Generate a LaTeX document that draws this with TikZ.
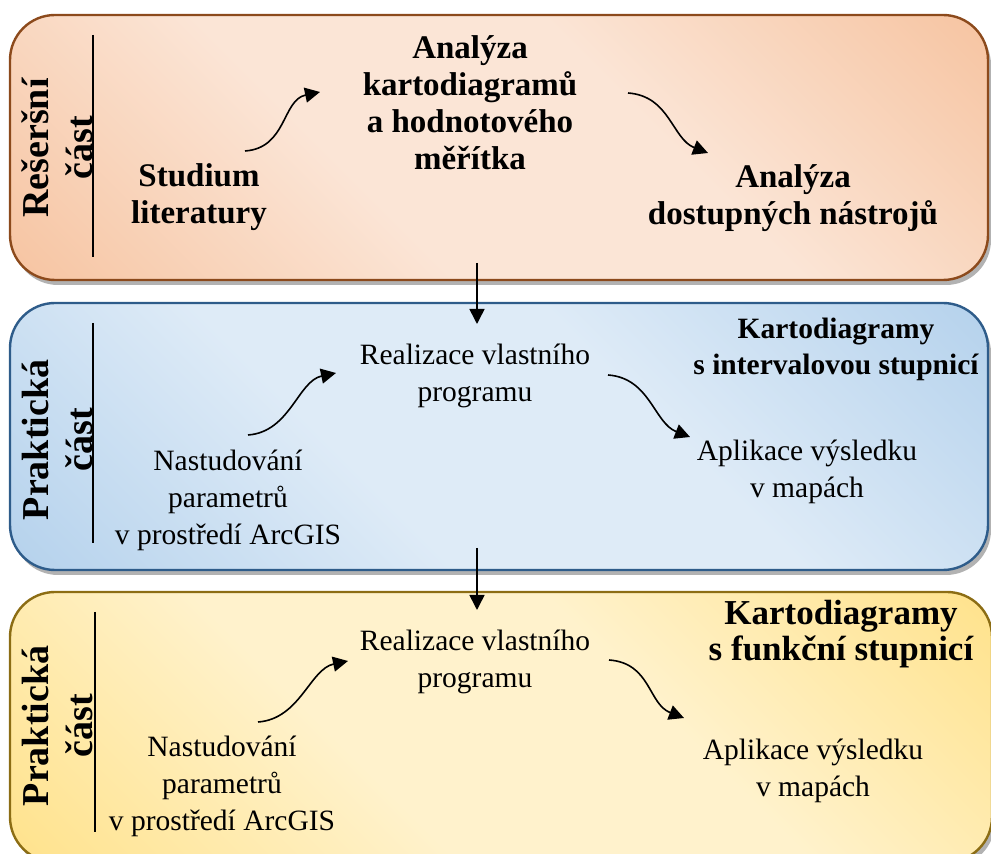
\documentclass[tikz,border=0pt]{standalone}
\usepackage{fontspec}
\setmainfont{Liberation Serif}[BoldFont={Liberation Serif Bold}]
\usetikzlibrary{arrows.meta,positioning,calc}

\definecolor{orDark}{HTML}{F4B183}
\definecolor{orLight}{HTML}{FBE5D6}
\definecolor{orLine}{HTML}{8C4A1C}
\definecolor{blDark}{HTML}{9DC3E6}
\definecolor{blLight}{HTML}{DEEBF7}
\definecolor{blLine}{HTML}{2E5C8A}
\definecolor{yeDark}{HTML}{FFD966}
\definecolor{yeLight}{HTML}{FFF2CC}
\definecolor{yeLine}{HTML}{8C6D14}

\pgfdeclarehorizontalshading{orpanel}{100bp}{color(0bp)=(orDark); color(40bp)=(orLight); color(60bp)=(orLight); color(100bp)=(orDark)}
\pgfdeclarehorizontalshading{blpanel}{100bp}{color(0bp)=(blDark); color(40bp)=(blLight); color(60bp)=(blLight); color(100bp)=(blDark)}
\pgfdeclarehorizontalshading{yepanel}{100bp}{color(0bp)=(yeDark); color(40bp)=(yeLight); color(60bp)=(yeLight); color(100bp)=(yeDark)}

\tikzset{
  toptxt/.style={align=center, font=\fontsize{16.5}{18.5}\selectfont\bfseries},
  txt/.style={align=center, font=\fontsize{14.75}{18.5}\selectfont},
  titletxt/.style={align=center, font=\fontsize{14.75}{18}\selectfont\bfseries},
  bigtitle/.style={align=center, font=\fontsize{17.5}{18}\selectfont\bfseries},
  sidetxt/.style={rotate=90, align=center, font=\fontsize{19}{22}\selectfont\bfseries},
  flow/.style={-{Triangle[length=7.5pt,width=7.5pt]}, line width=0.8pt},
  divline/.style={line width=0.75pt}
}

\begin{document}
\begin{tikzpicture}[x=0.5pt,y=-0.5pt]
  \useasboundingbox (0,0) rectangle (991,854);
  \clip (0,0) rectangle (991,854);

  % panels
  \foreach \t/\b/\r/\shd/\brd in {15/280/988/orpanel/orLine, 303/570/988/blpanel/blLine, 592/862/992/yepanel/yeLine}{
    \fill[black,opacity=.3,rounded corners=22.5pt] (13,\t+5) rectangle (\r+3,\b+5);
    \draw[draw=\brd,line width=1.2pt,rounded corners=22.5pt,shade,shading=\shd,shading angle=45] (10,\t) rectangle (\r,\b);
  }
  \foreach \t/\b/\xx in {35/257/93, 323/543/93, 612/832/95}
    \draw[divline] (\xx,\t) -- (\xx,\b);

  % side labels
  \node[sidetxt] (side1) at (57,148) {Rešeršní\\část};
  \node[sidetxt] (side2) at (57,440) {Praktická\\část};
  \node[sidetxt] (side3) at (57,726) {Praktická\\část};

  % research part
  \node[toptxt] (stud) at (199,197) {Studium\\literatury};
  \node[toptxt] (ankart) at (470,103) {Analýza\\kartodiagramů\\a hodnotového\\měřítka};
  \node[toptxt] (annas) at (793,198) {Analýza\\dostupných nástrojů};

  % practical part 1
  \node[txt] (real1) at (475,376) {Realizace vlastního\\programu};
  \node[titletxt] (kint) at (836,349) {Kartodiagramy\\s intervalovou stupnicí};
  \node[txt] (apl1) at (807,472) {Aplikace výsledku\\v mapách};
  \node[txt] (nast1) at (228,500) {Nastudování\\parametrů\\v prostředí ArcGIS};

  % practical part 2
  \node[txt] (real2) at (475,662) {Realizace vlastního\\programu};
  \node[bigtitle] (kfun) at (841,634) {Kartodiagramy\\s funkční stupnicí};
  \node[txt] (apl2) at (813,771) {Aplikace výsledku\\v mapách};
  \node[txt] (nast2) at (222,786) {Nastudování\\parametrů\\v prostředí ArcGIS};

  % arrows
  \coordinate (a1s) at (245,151); \coordinate (a1e) at (320,92);
  \coordinate (a2s) at (628,93);  \coordinate (a2e) at (708,153);
  \coordinate (b1s) at (248,435); \coordinate (b1e) at (336,373);
  \coordinate (b2s) at (608,375); \coordinate (b2e) at (690,437);
  \coordinate (c1s) at (258,722); \coordinate (c1e) at (348,661);
  \coordinate (c2s) at (609,660); \coordinate (c2e) at (684,718);
  \coordinate (v1s) at (477,263); \coordinate (v1e) at (477,324);
  \coordinate (v2s) at (477,548); \coordinate (v2e) at (477,610);

  \foreach \p in {a1,b1,c1}
    \draw[flow] (\p s) .. controls +(42,-3) and +(-38,8) .. (\p e);
  \foreach \p in {a2,b2,c2}
    \draw[flow] (\p s) .. controls +(42,3) and +(-36,-14) .. (\p e);
  \draw[flow] (v1s) -- (v1e);
  \draw[flow] (v2s) -- (v2e);
\end{tikzpicture}
\end{document}
